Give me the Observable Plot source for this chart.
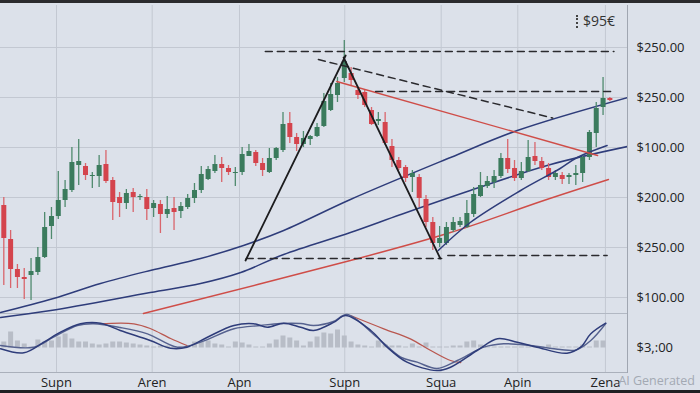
<!DOCTYPE html>
<html><head><meta charset="utf-8">
<script src="https://cdn.jsdelivr.net/npm/d3@7"></script>
<script src="https://cdn.jsdelivr.net/npm/@observablehq/plot@0.6"></script>
<style>
html,body{margin:0;padding:0;background:#dce1ea;overflow:hidden;}
#wrap{position:relative;width:700px;height:393px;overflow:hidden;}
#topbar{position:absolute;left:0;top:0;width:700px;height:3px;background:#2b2b2e;}
#botbar{position:absolute;left:0;bottom:0;width:700px;height:3px;background:#1f1f22;}
#badge{position:absolute;left:576px;top:11px;font:14px "Open Sans",sans-serif;color:#333;white-space:nowrap;}
#badge .dots{display:inline-block;width:0;height:13px;border-left:2px dotted #444;margin-right:5px;vertical-align:-2px;}
#ai{position:absolute;right:5px;top:372px;font:12.5px "Open Sans",sans-serif;color:#a3a9b3;white-space:nowrap;}
</style></head>
<body>
<div id="wrap">
  <div id="chart"></div>
  <div id="topbar"></div>
  <div id="botbar"></div>
  <div id="badge"><span class="dots"></span>$95€</div>
  <div id="ai">AI Generated</div>
</div>
<script>
// ---- candle data (index = trading period) ----
const opens  = [192,158,128,120,122,125,140,171,181,197,207,232,231,221,221,233,217,200,194,205,200,200,189,193,183,189,186,190,199,207,218,226,233,229,224,225,241,245,234,225,239,247,274,260,253,258,261,271,287,302,319,324,307,305,287,276,275,251,237,230,220,220,198,175,154,154,167,172,170,183,201,211,215,221,239,229,219,226,241,236,229,220,222,220,222,224,240,264,290,299];
const closes = [159,128,120,118,126,140,170,181,197,208,235,236,222,222,232,216,195,194,204,200,201,188,194,183,188,185,191,199,207,223,228,233,229,225,225,243,246,234,227,239,249,273,260,253,259,261,270,296,303,314,336,317,302,292,273,278,254,237,229,219,224,199,175,154,159,170,175,176,184,203,212,216,221,239,228,219,226,240,236,229,220,224,218,222,224,240,265,289,299,297];
const highs  = [200,167,133,129,139,150,185,190,226,217,250,258,234,225,242,247,220,205,208,209,203,208,197,197,201,200,195,203,214,231,231,242,240,232,230,250,253,247,239,249,250,285,285,264,266,262,274,304,314,320,357,330,310,307,290,285,285,258,240,232,227,223,202,180,171,175,180,180,197,210,225,221,227,244,258,237,235,257,255,240,234,227,225,224,232,242,267,295,320,300];
const lows   = [112,109,109,98,97,122,139,158,178,190,205,212,217,209,210,214,177,180,188,185,197,177,180,164,179,167,179,188,194,204,217,224,215,222,211,222,241,231,221,224,237,245,254,246,250,252,260,270,286,295,315,312,298,290,272,272,252,230,227,215,205,190,170,147,150,152,165,170,169,180,200,209,209,219,224,216,217,225,232,227,217,217,213,213,212,215,237,250,282,296];
const volumes = [6,16,7,4,1,8,6,7,11,14,9,6,6,4,3,4,6,6,5,4,3,2,1,2,2,1,1,1,6,6,7,4,3,1,6,5,3,1,1,4,8,12,10,7,2,6,11,15,14,18,12,6,3,2,1,7,3,2,2,1,4,1,5,1,1,1,2,2,6,7,3,1,1,1,1,1,1,1,1,1,3,1,1,1,1,3,1,7,7,0];
const volBase = 49.5;

// ---- axes ----
const xTickIdx = [7.74, 21.79, 34.61, 50.07, 64.23, 75.48, 88.35];
const xTickLabels = ["Supn", "Aren", "Apn", "Supn", "Squa", "Apin", "Zena"];
const yTickVals = [350, 300, 250, 200, 150, 100, 50];
const yTickLabels = ["$250.00", "$250.00", "$100.00", "$200.00", "$250.00", "$100.00", "$3,:00"];
const yGrid = [350, 300, 250, 200, 150, 100];
const panelSep = 84;
const panelBottom = 25;

// ---- overlay lines: [index, value] ----
const upperBlue = [[-0.48,85],[7.3,99],[14.2,114],[21.5,127],[28.9,139],[35.2,152],[41.1,167],[50.9,198],[65.6,240],[75.4,267],[91.6,300]];
const lowerBlue = [[-0.48,80],[6.9,87],[21.5,105],[28.9,114],[34.8,125],[41.1,143],[50.9,165],[58.3,183],[68.5,207],[80.3,233],[91.6,251]];
const thirdBlue = [[63.8,147],[68.5,175],[75.9,207],[81.7,229],[84.2,240],[88.6,252]];
const blackUp = [[35.5,137],[50.2,342]];
const blackDown = [[49.9,340],[64.1,139]];
const redDown = [[48.9,316],[87.2,242]];
const redUp = [[20.5,84],[50.9,137],[65.6,165],[79.3,197],[88.8,218]];
const dashTop = [[38.4,346],[89.6,346]];
const dashMid = [[54.6,306],[89.8,306]];
const dashDiag = [[46.2,338],[80.6,279.5]];
const dashLowL = [[35.6,139],[64.3,139]];
const dashLowR = [[65.2,142],[88.6,142]];

// ---- oscillator panel ----
const oscA = [[-0.48,48.7],[2.94,44.7],[5.87,55.3],[8.33,65.3],[11.26,73.7],[14.2,74.3],[17.1,67],[21.5,57],[24.5,49.3],[26.9,50.3],[29.9,60.3],[33.8,72],[36.7,73.7],[38.7,70.3],[41.1,74.3],[43.6,70.3],[45.5,67],[48.5,75.3],[50.2,82],[53.9,67],[56.3,50.3],[59.2,35.3],[63.6,27],[65.6,30.3],[69.5,47],[72.5,58.7],[75.4,55.3],[78.3,50.3],[82.7,44.3],[84.7,50.3],[86.2,63.7],[88.4,74.3]];
const oscB = [[-0.48,52],[4.4,50.3],[7.3,60.3],[10.8,72],[13.2,73.7],[17.1,70],[21.1,63.7],[25.5,50.3],[28.9,55.3],[33.8,68.7],[37.7,72],[40.6,74],[43.6,74],[45.5,72],[48.4,76],[50.4,83],[54.8,60.3],[58.3,40.3],[60.7,35.3],[63.6,29],[66.6,37],[70.5,50.3],[73.4,53.7],[77.3,52],[81.7,48],[84.1,47.7],[86.2,57],[88.4,74]];
const oscRed1 = [[14.2,73.7],[19.1,73.7],[21.5,69],[24.5,59],[26.9,52]];
const oscRed2 = [[50.9,82],[55.8,68.7],[59.7,58.7],[62.7,47],[65.6,37],[67.1,35]];

const GREEN = "#3b7b5d", RED = "#d4444d", NAVY = "#2e3c7a", REDLINE = "#cf4d48";
const candles = opens.map((o, i) => ({i, o, c: closes[i], h: highs[i], l: lows[i], up: closes[i] >= o}));
const upC = candles.filter(d => d.up), dnC = candles.filter(d => !d.up);
const volData = volumes.map((v, i) => ({i, v}));
const xLab = new Map(xTickIdx.map((d, i) => [d, xTickLabels[i]]));
const yLab = new Map(yTickVals.map((d, i) => [d, yTickLabels[i]]));
const px = d => d[0], py = d => d[1];
const ln = (data, opts) => Plot.line(data, {x: px, y: py, clip: true, ...opts});

const chart = Plot.plot({
  width: 700, height: 393,
  marginLeft: 0, marginRight: 73, marginTop: 5, marginBottom: 21,
  x: {domain: [-0.485, 91.59]},
  y: {domain: [25, 392]},
  style: {background: "#dce1ea", fontFamily: "'Open Sans', sans-serif", fontSize: "13px", color: "#222"},
  marks: [
    Plot.ruleY(yGrid, {stroke: "#c3c8d2", strokeWidth: 1}),
    Plot.ruleX(xTickIdx, {stroke: "#c3c8d2", strokeWidth: 1}),
    Plot.ruleY([panelSep], {stroke: "#b2b8c3", strokeWidth: 1.2}),
    Plot.ruleY([panelBottom], {stroke: "#aab0bb", strokeWidth: 1.2}),
    Plot.frame({anchor: "right", stroke: "#a0a6b1"}),
    // volume bars
    Plot.ruleX(volData, {x: "i", y1: volBase, y2: d => volBase + d.v, stroke: "#b8bdc7", strokeWidth: 5}),
    // oscillators
    ln(oscRed1, {stroke: "#b9574f", strokeWidth: 1.3, curve: "catmull-rom"}),
    ln(oscRed2, {stroke: "#b9574f", strokeWidth: 1.3, curve: "catmull-rom"}),
    ln(oscB, {stroke: "#56628f", strokeWidth: 1.4, curve: "catmull-rom"}),
    ln(oscA, {stroke: NAVY, strokeWidth: 1.5, curve: "catmull-rom"}),
    // moving averages / trend lines
    ln(redUp, {stroke: REDLINE, strokeWidth: 1.4, curve: "catmull-rom"}),
    ln(upperBlue, {stroke: NAVY, strokeWidth: 1.5, curve: "catmull-rom"}),
    ln(lowerBlue, {stroke: NAVY, strokeWidth: 1.5, curve: "catmull-rom"}),
    // candles
    Plot.ruleX(upC, {x: "i", y1: "l", y2: "h", stroke: "#4f8a6e", strokeWidth: 1.3}),
    Plot.ruleX(dnC, {x: "i", y1: "l", y2: "h", stroke: "#d9656c", strokeWidth: 1.3}),
    Plot.ruleX(upC, {x: "i", y1: "o", y2: "c", stroke: GREEN, strokeWidth: 5}),
    Plot.ruleX(dnC, {x: "i", y1: "o", y2: "c", stroke: RED, strokeWidth: 5}),
    // overlays on top
    ln(thirdBlue, {stroke: NAVY, strokeWidth: 1.5, curve: "catmull-rom"}),
    ln(redDown, {stroke: REDLINE, strokeWidth: 1.4}),
    ln(dashTop, {stroke: "#2a2a2e", strokeWidth: 1.5, strokeDasharray: "7,5"}),
    ln(dashMid, {stroke: "#2a2a2e", strokeWidth: 1.5, strokeDasharray: "7,5"}),
    ln(dashDiag, {stroke: "#2a2a2e", strokeWidth: 1.5, strokeDasharray: "7,5"}),
    ln(dashLowL, {stroke: "#2a2a2e", strokeWidth: 1.5, strokeDasharray: "7,5"}),
    ln(dashLowR, {stroke: "#2a2a2e", strokeWidth: 1.5, strokeDasharray: "7,5"}),
    ln(blackUp, {stroke: "#1c1c1e", strokeWidth: 1.8}),
    ln(blackDown, {stroke: "#1c1c1e", strokeWidth: 1.8}),
    // axes
    Plot.axisX(xTickIdx, {tickFormat: d => xLab.get(d), tickSize: 0, tickPadding: 5, fontSize: 13, fill: "#222", label: null}),
    Plot.axisY(yTickVals, {anchor: "right", tickFormat: d => yLab.get(d), tickSize: 0, tickPadding: 9, fontSize: 13, fill: "#222", label: null})
  ]
});
document.getElementById("chart").appendChild(chart);
</script>
</body></html>
